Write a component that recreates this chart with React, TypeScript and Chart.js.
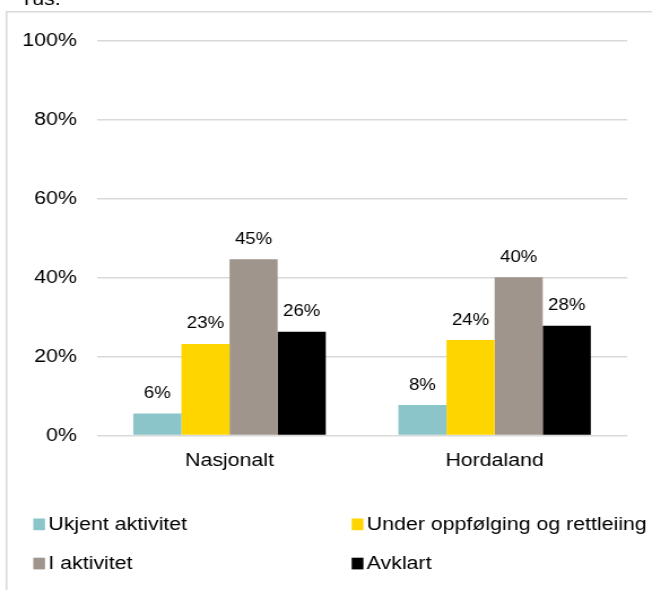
import React, { useEffect, useRef } from "react";
import { Chart, registerables } from "chart.js";

Chart.register(...registerables);

const categories = ["Nasjonalt", "Hordaland"];
const seriesNames = ["Ukjent aktivitet", "Under oppfølging og rettleiing", "I aktivitet", "Avklart"];
const ukjent = [5.6, 7.7];
const underOppfolging = [23.2, 24.2];
const iAktivitet = [44.7, 40.1];
const avklart = [26.3, 27.8];
const seriesColors = ["#8BC5C9", "#FFD500", "#A0958C", "#000000"];
const yTicks = [0, 20, 40, 60, 80, 100];
const headerText = "Tus.";

const SX = 1.13; // horizontal stretch of the reference picture
const W = 652;
const H = 590;
const IW = Math.round(W / SX);
const FONT = "'Liberation Sans', Arial, sans-serif";
const FS = 18.9;

export default function App() {
  const ref = useRef<HTMLCanvasElement | null>(null);

  useEffect(() => {
    const canvas = ref.current;
    if (!canvas) return;

    const framePlugin = {
      id: "frame",
      beforeDraw(chart: any) {
        const ctx = chart.ctx;
        ctx.save();
        ctx.fillStyle = "#ffffff";
        ctx.fillRect(0, 0, chart.width, chart.height);
        ctx.strokeStyle = "#d9d9d9";
        ctx.lineWidth = 1.6;
        ctx.beginPath();
        ctx.moveTo(6.5 / SX, H);
        ctx.lineTo(6.5 / SX, 11.8);
        ctx.lineTo(chart.width, 11.8);
        ctx.stroke();
        ctx.fillStyle = "#000";
        ctx.font = `${FS}px ${FONT}`;
        ctx.textBaseline = "alphabetic";
        ctx.textAlign = "left";
        ctx.fillText(headerText, 20 / SX, 5);
        ctx.restore();
      },
    };

    const labelPlugin = {
      id: "valueLabels",
      afterDatasetsDraw(chart: any) {
        const ctx = chart.ctx;
        ctx.save();
        ctx.fillStyle = "#000";
        ctx.font = `16.5px ${FONT}`;
        ctx.textAlign = "center";
        ctx.textBaseline = "alphabetic";
        chart.data.datasets.forEach((ds: any, di: number) => {
          const meta = chart.getDatasetMeta(di);
          meta.data.forEach((bar: any, i: number) => {
            const v = ds.data[i];
            ctx.fillText(Math.round(v) + "%", bar.x, bar.y - 15.5);
          });
        });
        ctx.restore();
      },
    };

    const legendPlugin = {
      id: "gridLegend",
      afterDraw(chart: any) {
        const ctx = chart.ctx;
        ctx.save();
        ctx.font = `${FS}px ${FONT}`;
        ctx.textAlign = "left";
        ctx.textBaseline = "middle";
        const colBox = [33.3 / SX, 351.7 / SX];
        const rowY = [524.3, 563.5];
        chart.data.datasets.forEach((ds: any, i: number) => {
          const col = i % 2;
          const row = Math.floor(i / 2);
          const bx = colBox[col];
          const cy = rowY[row];
          ctx.fillStyle = ds.backgroundColor;
          ctx.fillRect(bx, cy - 5.8, 11.7 / SX, 11.7);
          ctx.fillStyle = "#000";
          ctx.fillText(ds.label, bx + 15 / SX, cy + 0.5);
        });
        ctx.restore();
      },
    };

    const chart = new Chart(canvas, {
      type: "bar",
      data: {
        labels: categories,
        datasets: [ukjent, underOppfolging, iAktivitet, avklart].map((d, i) => ({
          label: seriesNames[i],
          data: d,
          backgroundColor: seriesColors[i],
          borderWidth: 0,
          categoryPercentage: 0.726,
          barPercentage: 1.0,
        })),
      },
      options: {
        responsive: false,
        animation: false,
        devicePixelRatio: 1,
        layout: { padding: { top: 41, left: 0, right: IW - 555, bottom: 590 - 435.5 - 40 } },
        plugins: {
          legend: { display: false },
          tooltip: { enabled: false },
          title: { display: false },
        },
        scales: {
          x: {
            grid: { display: false, drawTicks: false },
            border: { display: false },
            ticks: {
              color: "#000",
              font: { family: FONT, size: FS },
              padding: 14,
            },
            afterFit(s: any) {
              s.height = 40;
            },
          },
          y: {
            min: 0,
            max: 100,
            afterBuildTicks(s: any) {
              s.ticks = yTicks.map((v) => ({ value: v }));
            },
            grid: { color: "#d9d9d9", lineWidth: 1.4, drawTicks: false },
            border: { display: false },
            ticks: {
              color: "#000",
              font: { family: FONT, size: FS },
              padding: 17.7,
              callback: (v: any) => v + "%",
            },
            afterFit(s: any) {
              s.width = 97 / SX;
            },
          },
        },
      },
      plugins: [framePlugin, labelPlugin, legendPlugin],
    });

    return () => chart.destroy();
  }, []);

  return (
    <div style={{ position: "absolute", left: 0, top: 0, width: W, height: H, background: "#fff" }}>
      <canvas
        ref={ref}
        width={IW}
        height={H}
        style={{ width: W + "px", height: H + "px", display: "block" }}
      />
    </div>
  );
}
